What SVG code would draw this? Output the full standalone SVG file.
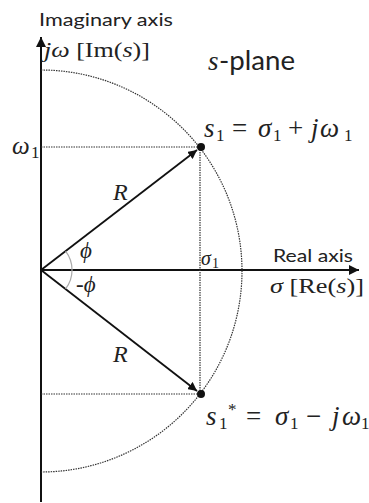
<svg xmlns="http://www.w3.org/2000/svg" width="369" height="503" viewBox="0 0 369 503">
<defs>
<style>
.axis{stroke:#111;stroke-width:2;fill:none}
.vec{stroke:#111;stroke-width:1.8;fill:none}
.dot{stroke:#333;stroke-width:1.2;stroke-dasharray:1.5 1;fill:none}
.arc{stroke:#aaa;stroke-width:1.2;fill:none}
.lab{font-family:"Lato","Liberation Sans",sans-serif;fill:#222}
.m{font-family:"Liberation Serif","DejaVu Serif",serif;fill:#222}
.i{font-style:italic}
.sb{font-size:17px;font-style:normal}
</style>
<marker id="ah" viewBox="0 0 10 10" refX="10" refY="5" markerWidth="5" markerHeight="5" orient="auto" markerUnits="strokeWidth">
<path d="M0,0 L10,5 L0,10 Z" fill="#111"/>
</marker>
</defs>
<rect width="369" height="503" fill="#fff"/>
<g id="connectors">
<line class="axis" x1="41" y1="502" x2="41" y2="37" marker-end="url(#ah)"/>
<line class="axis" x1="41" y1="270" x2="359" y2="270" marker-end="url(#ah)"/>
<path class="dot" d="M41,70 A201,201 0 0 1 41,472"/>
<line class="dot" x1="41" y1="147" x2="201" y2="147"/>
<line class="dot" x1="41" y1="394" x2="201" y2="394"/>
<line class="dot" x1="200" y1="147" x2="200" y2="394"/>
<line class="vec" x1="41" y1="270" x2="197" y2="150" marker-end="url(#ah)"/>
<line class="vec" x1="41" y1="270" x2="197" y2="391" marker-end="url(#ah)"/>
<path class="arc" d="M65.6,251.1 A31,31 0 0 1 65.6,288.9"/>
</g>
<g id="s1">
<circle cx="201" cy="147" r="4" fill="#111"/>
<text class="m" y="137" font-size="27"><tspan class="i" x="204">s</tspan><tspan class="sb" x="216" dy="4">1</tspan><tspan x="232" dy="-4">=</tspan><tspan class="i" x="258">σ</tspan><tspan class="sb" x="273" dy="4">1</tspan><tspan x="288" dy="-4">+</tspan><tspan class="i" x="311">j</tspan><tspan class="i" x="320">ω</tspan><tspan class="sb" x="344" dy="4">1</tspan></text>
</g>
<g id="s1conj">
<circle cx="201" cy="394" r="4" fill="#111"/>
<text class="m" y="425" font-size="27"><tspan class="i" x="206">s</tspan><tspan class="sb" x="219" dy="4">1</tspan><tspan class="sb" x="228" dy="-14">*</tspan><tspan x="246" dy="10">=</tspan><tspan class="i" x="275">σ</tspan><tspan class="sb" x="290" dy="4">1</tspan><tspan x="306" dy="-4">−</tspan><tspan class="i" x="332">j</tspan><tspan class="i" x="342">ω</tspan><tspan class="sb" x="361" dy="4">1</tspan></text>
</g>
<g id="labels">
<text class="lab" x="39" y="26" font-size="17.5" textLength="134" lengthAdjust="spacingAndGlyphs">Imaginary axis</text>
<text class="m" x="44" y="57" font-size="22" textLength="106" lengthAdjust="spacingAndGlyphs"><tspan class="i">jω</tspan> [Im(<tspan class="i">s</tspan>)]</text>
<text class="lab" y="70" font-size="26"><tspan class="m i" x="208" font-size="27">s</tspan><tspan x="219" textLength="76" lengthAdjust="spacingAndGlyphs">-plane</tspan></text>
<text class="m" y="154" font-size="25"><tspan class="i" x="12">ω</tspan><tspan class="sb" x="31" dy="4">1</tspan></text>
<text class="m i" x="113" y="200" font-size="24">R</text>
<text class="m i" x="113" y="362" font-size="24">R</text>
<text class="m i" x="80" y="258" font-size="23">ϕ</text>
<text class="m" x="76" y="292" font-size="23">-<tspan class="i">ϕ</tspan></text>
<text class="m" y="265" font-size="20"><tspan class="i" x="201">σ</tspan><tspan font-size="14" x="212" dy="3">1</tspan></text>
<text class="lab" x="273" y="262" font-size="17.5" textLength="80" lengthAdjust="spacingAndGlyphs">Real axis</text>
<text class="m" x="270" y="293" font-size="22" textLength="94" lengthAdjust="spacingAndGlyphs"><tspan class="i">σ</tspan> [Re(<tspan class="i">s</tspan>)]</text>
</g>
</svg>
